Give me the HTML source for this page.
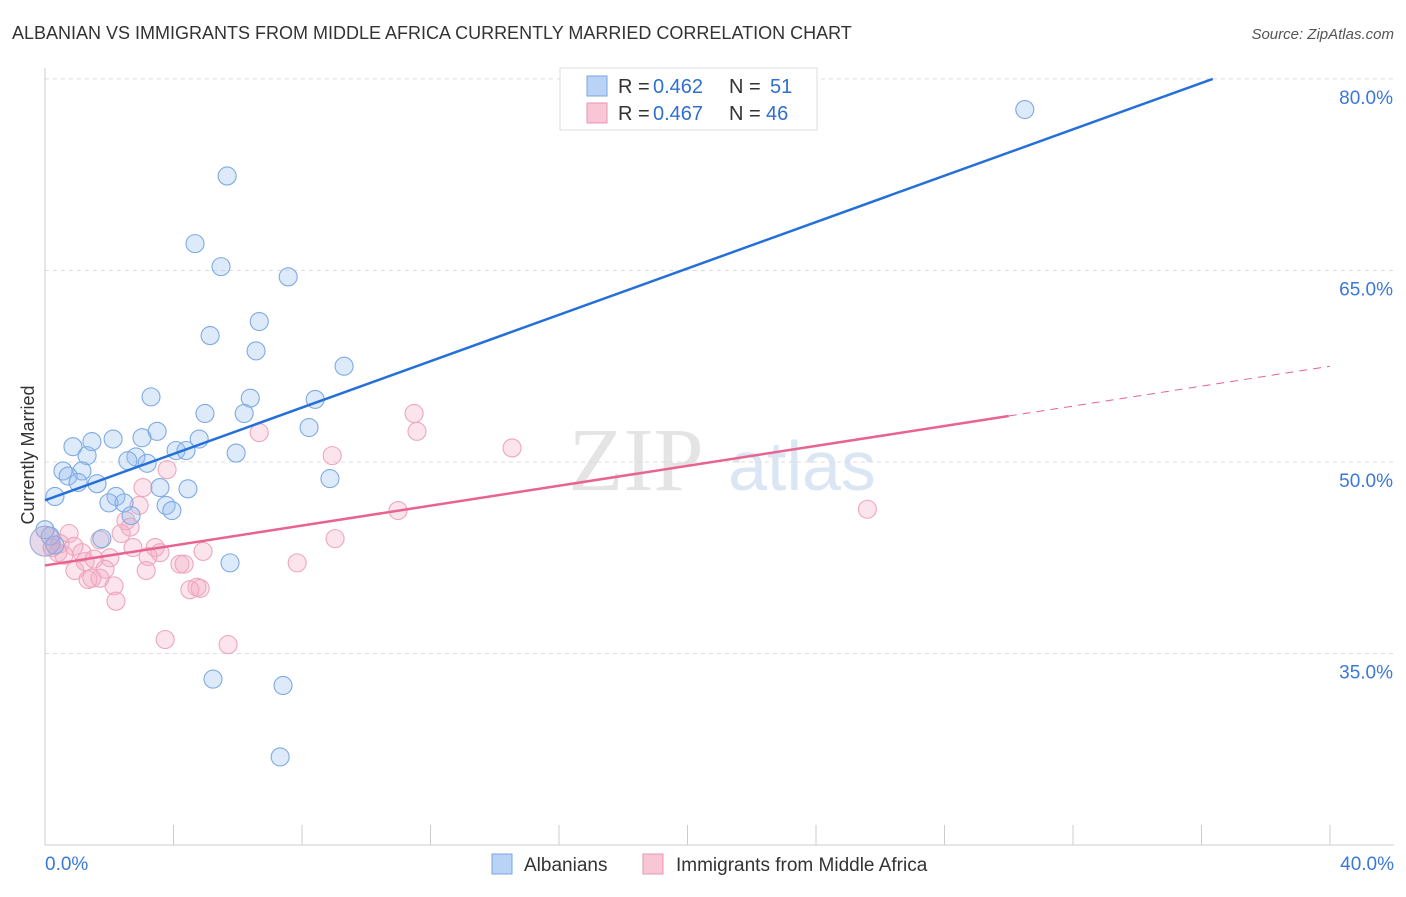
<!DOCTYPE html>
<html><head><meta charset="utf-8"><style>
body{margin:0;background:#fff;font-family:"Liberation Sans",sans-serif;}
</style></head><body>
<svg id="c" width="1406" height="892" xmlns="http://www.w3.org/2000/svg">
<text x="12" y="39" font-size="18" fill="#333">ALBANIAN VS IMMIGRANTS FROM MIDDLE AFRICA CURRENTLY MARRIED CORRELATION CHART</text>
<text x="1394" y="39" font-size="15" fill="#555" font-style="italic" text-anchor="end">Source: ZipAtlas.com</text>
<text x="34" y="455" font-size="18" fill="#333" text-anchor="middle" transform="rotate(-90 34 455)">Currently Married</text>
<g>
<text x="636" y="490" font-size="90" fill="#e4e4e4" font-family="Liberation Serif,serif" text-anchor="middle">ZIP</text>
<text x="802" y="490" font-size="70" fill="#dbe6f5" text-anchor="middle">atlas</text>
</g>
<g id="grid"></g><g id="axes"></g><g id="pts"></g><g id="lines"></g>
<g>
<rect x="560" y="68" width="257" height="62" fill="#fff" stroke="#ddd"/>
<rect x="587" y="76" width="20" height="20" fill="#b8d3f5" stroke="#7aa6e0"/>
<rect x="587" y="103" width="20" height="20" fill="#f8c6d5" stroke="#e897b0"/>
<text x="618" y="93" font-size="20" fill="#333">R =</text>
<text x="653" y="93" font-size="20" fill="#2f6fd0">0.462</text>
<text x="729" y="93" font-size="20" fill="#333">N =</text>
<text x="770" y="93" font-size="20" fill="#2f6fd0">51</text>
<text x="618" y="120" font-size="20" fill="#333">R =</text>
<text x="653" y="120" font-size="20" fill="#2f6fd0">0.467</text>
<text x="729" y="120" font-size="20" fill="#333">N =</text>
<text x="766" y="120" font-size="20" fill="#2f6fd0">46</text>
</g>
<g>
<rect x="492" y="854" width="20" height="20" fill="#b8d3f5" stroke="#7aa6e0"/>
<text x="524" y="871" font-size="19" fill="#333">Albanians</text>
<rect x="643" y="854" width="20" height="20" fill="#f8c6d5" stroke="#e897b0"/>
<text x="676" y="871" font-size="19" fill="#333">Immigrants from Middle Africa</text>
</g>
</svg>
<script>
const yTicks=[80,65,50,35];
const xTickLabels=["0.0%","40.0%"];
const blueX=[30.5,5.67,4.67,5.48,7.57,6.67,5.14,6.57,9.31,3.30,6.39,8.41,4.98,6.20,8.22,3.49,2.12,3.02,1.46,0.87,4.80,4.08,4.39,1.31,2.83,2.58,3.18,5.95,0.56,1.15,0.72,1.03,1.62,3.58,4.45,8.87,0.31,2.21,1.99,2.46,3.77,3.95,2.68,1.77,5.76,5.23,7.41,7.32,0.16,0.31,0.0];
const blueY=[77.6,72.4,67.1,65.3,64.5,61.0,59.9,58.7,57.5,55.1,55.0,54.9,53.8,53.8,52.7,52.4,51.8,51.9,51.6,51.2,51.8,50.9,50.9,50.5,50.4,50.1,49.9,50.7,49.3,49.3,48.9,48.4,48.3,48.0,47.9,48.7,47.3,47.3,46.8,46.8,46.6,46.2,45.8,44.0,42.1,33.0,32.5,26.9,44.2,43.5,44.7];
const pinkX=[25.6,11.49,11.58,14.54,6.67,8.94,3.80,3.05,2.93,10.99,2.52,2.65,2.37,9.03,0.75,1.71,0.47,0.22,0.90,2.74,3.43,1.15,3.58,4.92,2.02,1.25,1.53,7.85,4.20,4.33,3.21,1.87,3.15,0.93,1.71,1.46,2.15,4.73,4.83,4.51,1.34,2.21,3.74,5.70,0.40,0.59];
const pinkY=[46.3,53.8,52.4,51.1,52.3,50.5,49.4,48.0,46.6,46.2,45.4,44.9,44.4,44.0,44.4,43.9,43.6,43.3,43.4,43.3,43.3,42.9,42.9,43.0,42.5,42.2,42.4,42.1,42.0,42.0,42.6,41.6,41.5,41.5,40.9,40.9,40.3,40.2,40.1,40.0,40.8,39.1,36.1,35.7,42.9,42.7];
const blueLine=[[0,47.0],[36.35,80]];
const pinkLine=[[0,41.9],[30,53.6]];
const pinkDash=[[30,53.6],[40,57.5]];
const NS="http://www.w3.org/2000/svg";
const sx=v=>45+v*32.125, sy=v=>462-(v-50)*12.77;
function mk(t,a,p){const e=document.createElementNS(NS,t);for(const k in a)e.setAttribute(k,a[k]);p.appendChild(e);return e;}
const grid=document.getElementById('grid'),axes=document.getElementById('axes'),pts=document.getElementById('pts'),lines=document.getElementById('lines');
yTicks.forEach(v=>{const l=mk('line',{x1:45,x2:1394,y1:sy(v),y2:sy(v),stroke:'#ddd','stroke-dasharray':'4,4'},grid);


const t=mk('text',{x:1393,y:sy(v)+25,'font-size':19,fill:'#3b78d8','text-anchor':'end'},grid);t.textContent=v.toFixed(1)+'%';

});
const ax=mk('line',{x1:45,x2:1394,y1:845,y2:845,stroke:'#ccc'},axes);


const ay=mk('line',{x1:45,x2:45,y1:68,y2:845,stroke:'#ccc'},axes);


for(let i=0;i<=10;i++){const t=mk('line',{x1:sx(i*4),x2:sx(i*4),y1:825,y2:845,stroke:'#ccc'},axes);

}
[[0,'start',45],[1,'end',1394]].forEach(([i,a,x])=>{const t=mk('text',{x:x,y:870,'font-size':19,fill:'#3b78d8','text-anchor':a},axes);t.textContent=xTickLabels[i];

});
pinkX.forEach((x,i)=>{const c=mk('circle',{cx:sx(x),cy:sy(pinkY[i]),r:9,fill:'rgba(244,170,195,0.32)',stroke:'#eea6bd','stroke-width':1.1},pts);

});
blueX.forEach((x,i)=>{const c=mk('circle',{cx:sx(x),cy:sy(blueY[i]),r:9,fill:'rgba(150,190,240,0.32)',stroke:'#7eaae3','stroke-width':1.1},pts);

});
const big=mk('circle',{cx:sx(0),cy:sy(43.8),r:15,fill:'rgba(190,160,200,0.4)',stroke:'#9aa6d8'},pts);


function ln(p,st,w,d,n){const l=mk('line',{x1:sx(p[0][0]),y1:sy(p[0][1]),x2:sx(p[1][0]),y2:sy(p[1][1]),stroke:st,'stroke-width':w},lines);if(d)l.setAttribute('stroke-dasharray',d);

}
ln(blueLine,'#2570d8',2.5,null,'trendline-albanians');
ln(pinkLine,'#e8648f',2.5,null,'trendline-middle-africa');
ln(pinkDash,'#e8648f',1,'8,6','trendline-middle-africa-extension');
</script>
</body></html>
